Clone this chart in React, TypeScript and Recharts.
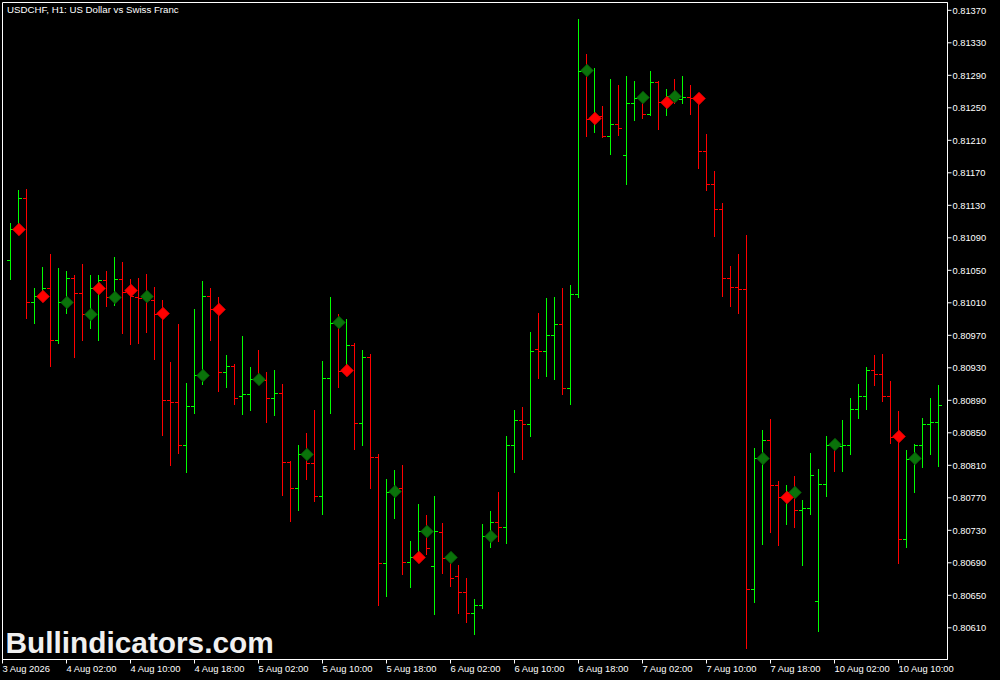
import React from 'react';
import { ComposedChart, Bar, Scatter, XAxis, YAxis, ReferenceArea } from 'recharts';

// USDCHF H1 bars, 3 Aug 19:00 .. 10 Aug 13:00 (one entry per hour)
const open = [
  0.81062, 0.81100, 0.81138, 0.81010, 0.81018, 0.81028, 0.80964, 0.81010, 0.81040, 0.81021,
  0.80996, 0.81028, 0.81038, 0.81017, 0.81039, 0.81025, 0.81017, 0.81018, 0.81013, 0.80997,
  0.80890, 0.80887, 0.80834, 0.80882, 0.80920, 0.81018, 0.81002, 0.80924, 0.80932, 0.80895,
  0.80897, 0.80916, 0.80914, 0.80892, 0.80898, 0.80813, 0.80782, 0.80823, 0.80812, 0.80771,
  0.80917, 0.80986, 0.80927, 0.80958, 0.80861, 0.80943, 0.80819, 0.80689, 0.80778, 0.80781,
  0.80690, 0.80697, 0.80729, 0.80685, 0.80727, 0.80696, 0.80673, 0.80654, 0.80627, 0.80638,
  0.80722, 0.80739, 0.80733, 0.80834, 0.80865, 0.80860, 0.80952, 0.80950, 0.80970, 0.80983,
  0.80904, 0.81020, 0.81296, 0.81237, 0.81239, 0.81215, 0.81229, 0.81191, 0.81255, 0.81263,
  0.81242, 0.81281, 0.81257, 0.81264, 0.81260, 0.81263, 0.81261, 0.81196, 0.81156, 0.81125,
  0.81040, 0.81029, 0.81026, 0.80657, 0.80818, 0.80840, 0.80785, 0.80770, 0.80776, 0.80754,
  0.80757, 0.80642, 0.80786, 0.80835, 0.80833, 0.80834, 0.80879, 0.80895, 0.80927, 0.80922,
  0.80895, 0.80845, 0.80719, 0.80818, 0.80834, 0.80860, 0.80863,
];
const high = [
  0.81107, 0.81148, 0.81150, 0.81028, 0.81054, 0.81069, 0.81052, 0.81048, 0.81043, 0.81057,
  0.81044, 0.81043, 0.81049, 0.81066, 0.81059, 0.81039, 0.81040, 0.81045, 0.81029, 0.81013,
  0.80936, 0.80983, 0.80911, 0.81002, 0.81036, 0.81027, 0.81016, 0.80945, 0.80934, 0.80969,
  0.80930, 0.80951, 0.80924, 0.80927, 0.80909, 0.80815, 0.80834, 0.80849, 0.80877, 0.80938,
  0.81017, 0.80995, 0.80990, 0.80960, 0.80951, 0.80946, 0.80823, 0.80792, 0.80803, 0.80810,
  0.80716, 0.80762, 0.80748, 0.80771, 0.80738, 0.80702, 0.80687, 0.80671, 0.80645, 0.80737,
  0.80753, 0.80776, 0.80846, 0.80877, 0.80881, 0.80973, 0.80997, 0.81015, 0.81016, 0.81028,
  0.81031, 0.81359, 0.81315, 0.81298, 0.81251, 0.81285, 0.81277, 0.81288, 0.81282, 0.81264,
  0.81295, 0.81282, 0.81273, 0.81285, 0.81288, 0.81277, 0.81264, 0.81217, 0.81172, 0.81132,
  0.81055, 0.81069, 0.81093, 0.80831, 0.80853, 0.80866, 0.80790, 0.80785, 0.80796, 0.80767,
  0.80824, 0.80805, 0.80846, 0.80837, 0.80865, 0.80892, 0.80909, 0.80930, 0.80945, 0.80946,
  0.80913, 0.80876, 0.80828, 0.80836, 0.80867, 0.80892, 0.80908,
];
const low = [
  0.81039, 0.81095, 0.80991, 0.80984, 0.81013, 0.80932, 0.80960, 0.80997, 0.80943, 0.80964,
  0.80978, 0.80964, 0.81006, 0.81007, 0.80972, 0.80959, 0.80960, 0.80974, 0.80940, 0.80847,
  0.80810, 0.80824, 0.80801, 0.80874, 0.80910, 0.80964, 0.80901, 0.80906, 0.80885, 0.80873,
  0.80877, 0.80911, 0.80863, 0.80871, 0.80773, 0.80741, 0.80754, 0.80793, 0.80766, 0.80749,
  0.80874, 0.80906, 0.80921, 0.80830, 0.80834, 0.80781, 0.80638, 0.80648, 0.80744, 0.80675,
  0.80659, 0.80693, 0.80700, 0.80626, 0.80677, 0.80661, 0.80627, 0.80616, 0.80602, 0.80634,
  0.80709, 0.80716, 0.80714, 0.80801, 0.80817, 0.80846, 0.80917, 0.80919, 0.80915, 0.80897,
  0.80885, 0.81017, 0.81215, 0.81219, 0.81214, 0.81192, 0.81216, 0.81155, 0.81234, 0.81237,
  0.81240, 0.81223, 0.81240, 0.81255, 0.81255, 0.81242, 0.81175, 0.81148, 0.81091, 0.81018,
  0.81006, 0.80997, 0.80584, 0.80641, 0.80712, 0.80727, 0.80711, 0.80737, 0.80733, 0.80687,
  0.80750, 0.80605, 0.80771, 0.80802, 0.80802, 0.80823, 0.80867, 0.80879, 0.80908, 0.80888,
  0.80837, 0.80689, 0.80709, 0.80776, 0.80807, 0.80823, 0.80809,
];
const close = [
  0.81100, 0.81138, 0.81010, 0.81018, 0.81028, 0.80964, 0.81010, 0.81040, 0.81021, 0.80996,
  0.81028, 0.81038, 0.81017, 0.81039, 0.81023, 0.81018, 0.81015, 0.81013, 0.80996, 0.80890,
  0.80887, 0.80834, 0.80882, 0.80920, 0.81018, 0.81002, 0.80924, 0.80932, 0.80892, 0.80897,
  0.80915, 0.80914, 0.80892, 0.80898, 0.80813, 0.80782, 0.80823, 0.80812, 0.80771, 0.80917,
  0.80985, 0.80926, 0.80958, 0.80861, 0.80943, 0.80819, 0.80689, 0.80777, 0.80781, 0.80690,
  0.80696, 0.80728, 0.80708, 0.80728, 0.80695, 0.80671, 0.80654, 0.80627, 0.80638, 0.80722,
  0.80739, 0.80733, 0.80834, 0.80865, 0.80860, 0.80950, 0.80950, 0.80970, 0.80983, 0.80904,
  0.81020, 0.81295, 0.81236, 0.81239, 0.81215, 0.81229, 0.81225, 0.81255, 0.81262, 0.81242,
  0.81281, 0.81256, 0.81264, 0.81260, 0.81263, 0.81261, 0.81196, 0.81156, 0.81125, 0.81040,
  0.81029, 0.81026, 0.80657, 0.80818, 0.80840, 0.80785, 0.80770, 0.80776, 0.80754, 0.80757,
  0.80798, 0.80786, 0.80834, 0.80833, 0.80834, 0.80879, 0.80895, 0.80927, 0.80922, 0.80895,
  0.80844, 0.80719, 0.80817, 0.80834, 0.80860, 0.80863, 0.80883,
];

// bars carrying an indicator diamond (drawn at the bar's open)
const buyBars = [7, 10, 13, 17, 24, 31, 37, 41, 48, 52, 55, 60, 72, 79, 83, 94, 98, 103, 113];
const sellBars = [1, 4, 11, 15, 19, 26, 42, 51, 73, 82, 86, 97, 111];

// time axis labels (bar index -1 is 3 Aug 18:00, at the left edge)
const tickBars = [-1, 7, 15, 23, 31, 39, 47, 55, 63, 71, 79, 87, 95, 103, 111];
const tickLabels = [
  '3 Aug 2026', '4 Aug 02:00', '4 Aug 10:00', '4 Aug 18:00', '5 Aug 02:00',
  '5 Aug 10:00', '5 Aug 18:00', '6 Aug 02:00', '6 Aug 10:00', '6 Aug 18:00',
  '7 Aug 02:00', '7 Aug 10:00', '7 Aug 18:00', '10 Aug 02:00', '10 Aug 10:00',
];

const priceTicks = [
  0.8137, 0.8133, 0.8129, 0.8125, 0.8121, 0.8117, 0.8113, 0.8109, 0.8105, 0.8101,
  0.8097, 0.8093, 0.8089, 0.8085, 0.8081, 0.8077, 0.8073, 0.8069, 0.8065, 0.8061,
];

const Y_MIN = 0.80571;
const Y_MAX = 0.813796;
const X_MIN = -1;
const X_MAX = 117.125;

const FONT = '"Liberation Sans", Arial, sans-serif';
const BULL = '#00ff00';
const BEAR = '#ff0000';

const rows = open.map((o, i) => ({
  i,
  o,
  h: high[i],
  l: low[i],
  c: close[i],
  range: [low[i], high[i]],
}));

const buyPoints = buyBars.map((i) => ({ i, p: open[i] }));
const sellPoints = sellBars.map((i) => ({ i, p: open[i] }));

// OHLC bar: vertical high-low line, open tick left, close tick right
const OhlcShape = (props: any) => {
  const { x, y, width, height, payload } = props;
  if (x == null || y == null) return null;
  const cx = Math.floor(x + width / 2) + 0.5;
  const top = Math.min(y, y + height);
  const bottom = Math.max(y, y + height);
  const span = payload.h - payload.l || 1;
  const yOf = (p: number) => top + ((payload.h - p) / span) * (bottom - top);
  const yo = Math.floor(yOf(payload.o)) + 0.5;
  const yc = Math.floor(yOf(payload.c)) + 0.5;
  const color = payload.c >= payload.o ? BULL : BEAR;
  return (
    <g stroke={color} strokeWidth={1} fill="none">
      <line x1={cx} x2={cx} y1={Math.floor(top)} y2={Math.floor(bottom) + 1} />
      <line x1={cx - 3.5} x2={cx} y1={yo} y2={yo} />
      <line x1={cx} x2={cx + 3.5} y1={yc} y2={yc} />
    </g>
  );
};

const makeDiamond = (fill: string, stroke: string) => (props: any) => {
  const { cx, cy } = props;
  if (cx == null || cy == null) return null;
  const x = Math.floor(cx) + 1;
  const y = Math.floor(cy) + 0.5;
  return (
    <polygon
      points={`${x},${y - 6.3} ${x + 6.3},${y} ${x},${y + 6.3} ${x - 6.3},${y}`}
      fill={fill}
      stroke={stroke}
      strokeWidth={0.8}
    />
  );
};

const TimeTick = (props: any) => {
  const { x, y, payload } = props;
  const k = tickBars.indexOf(payload.value);
  return (
    <text x={x} y={y + 8.5} fill="#fff" fontSize={9.4} fontFamily={FONT} textAnchor="start">
      {tickLabels[k]}
    </text>
  );
};

const PriceTick = (props: any) => {
  const { x, y, payload } = props;
  return (
    <text x={x} y={y + 3.4} fill="#fff" fontSize={9.3} fontFamily={FONT} textAnchor="start">
      {Number(payload.value).toFixed(5)}
    </text>
  );
};

export default function App() {
  return (
    <div
      style={{
        position: 'absolute',
        left: 0,
        top: 0,
        width: 1000,
        height: 680,
        background: '#000',
        overflow: 'hidden',
      }}
    >
      <ComposedChart
        width={1000}
        height={680}
        data={rows}
        margin={{ top: 2.5, right: 0, bottom: 0, left: 2.5 }}
      >
        <XAxis
          dataKey="i"
          type="number"
          domain={[X_MIN, X_MAX]}
          allowDataOverflow
          ticks={tickBars}
          interval={0}
          height={20.5}
          tickSize={4}
          tickMargin={0}
          axisLine={{ stroke: '#fff' }}
          tickLine={{ stroke: '#fff' }}
          tick={<TimeTick />}
        />
        <YAxis
          orientation="right"
          type="number"
          domain={[Y_MIN, Y_MAX]}
          allowDataOverflow
          ticks={priceTicks}
          interval={0}
          width={52.5}
          tickSize={4}
          tickMargin={1}
          axisLine={{ stroke: '#fff' }}
          tickLine={{ stroke: '#fff' }}
          tick={<PriceTick />}
        />
        <ReferenceArea
          x1={X_MIN}
          x2={X_MAX}
          y1={Y_MIN}
          y2={Y_MAX}
          fill="none"
          stroke="#fff"
          strokeWidth={1}
          fillOpacity={0}
        />
        <Bar dataKey="range" barSize={6} shape={OhlcShape} isAnimationActive={false} />
        <Scatter
          data={buyPoints}
          dataKey="p"
          shape={makeDiamond('#0a720a', '#065806')}
          isAnimationActive={false}
        />
        <Scatter
          data={sellPoints}
          dataKey="p"
          shape={makeDiamond('#ff0000', '#e00000')}
          isAnimationActive={false}
        />
      </ComposedChart>
      <svg
        width={1000}
        height={680}
        style={{ position: 'absolute', left: 0, top: 0, pointerEvents: 'none' }}
      >
        <text x={7} y={13} fill="#fff" fontSize={9.7} fontFamily={FONT}>
          USDCHF, H1:  US Dollar vs Swiss Franc
        </text>
        <text x={5.5} y={653} fill="#f0f0f0" fontSize={29.8} fontWeight="bold" fontFamily={FONT}>
          Bullindicators.com
        </text>
      </svg>
    </div>
  );
}
